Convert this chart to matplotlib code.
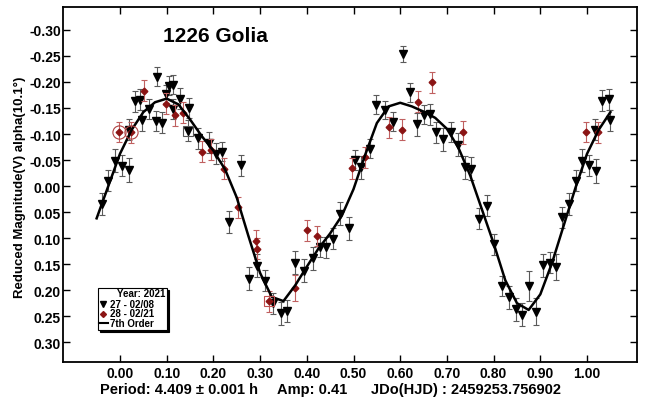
import matplotlib
matplotlib.use("Agg")
import matplotlib.pyplot as plt
from matplotlib.patches import Rectangle
from matplotlib.lines import Line2D

plt.rcParams['font.family'] = ['Liberation Sans', 'DejaVu Sans']
plt.rcParams['font.weight'] = 'bold'

# Session 27 (2021-02-08): phase, reduced magnitude, error
phase_27 = [-0.039, -0.025, -0.011, 0.005, 0.020, 0.019, 0.032, 0.043, 0.048, 0.063,
            0.077, 0.080, 0.090, 0.098, 0.105, 0.113, 0.114, 0.128, 0.148, 0.146,
            0.168, 0.190, 0.205, 0.219, 0.260, 0.233, 0.277, 0.294, 0.310, 0.328,
            0.344, 0.358, 0.374, 0.394, 0.414, 0.428, 0.442, 0.456, 0.471, 0.490,
            0.503, 0.517, 0.535, 0.549, 0.567, 0.585, 0.606, 0.620, 0.636, 0.651,
            0.663, 0.677, 0.692, 0.708, 0.724, 0.738, 0.752, 0.769, 0.786, 0.800,
            0.818, 0.833, 0.847, 0.861, 0.876, 0.891, 0.905, 0.920, 0.933, 0.947,
            0.961, 0.977, 0.990, 1.005, 1.020, 1.018, 1.032, 1.047, 1.050]
mag_27 = [0.035, -0.010, -0.049, -0.039, -0.031, -0.108, -0.163, -0.166, -0.126, -0.148,
          -0.125, -0.210, -0.122, -0.177, -0.193, -0.195, -0.148, -0.168, -0.150, -0.106,
          -0.092, -0.083, -0.062, -0.066, -0.040, 0.069, 0.178, 0.153, 0.182, 0.225,
          0.244, 0.240, 0.147, 0.163, 0.139, 0.117, 0.118, 0.101, 0.053, 0.081,
          -0.050, -0.036, -0.072, -0.156, -0.146, -0.124, -0.254, -0.180, -0.119, -0.137,
          -0.138, -0.103, -0.090, -0.104, -0.079, -0.036, -0.033, 0.063, 0.038, 0.112,
          0.192, 0.214, 0.237, 0.247, 0.192, 0.241, 0.152, 0.147, 0.156, 0.060,
          0.035, -0.010, -0.049, -0.040, -0.029, -0.108, -0.164, -0.167, -0.126]
err_27 = [0.021, 0.020, 0.022, 0.020, 0.023, 0.020, 0.020, 0.020, 0.020, 0.020,
          0.020, 0.018, 0.020, 0.018, 0.018, 0.018, 0.020, 0.020, 0.020, 0.020,
          0.020, 0.020, 0.020, 0.018, 0.020, 0.022, 0.022, 0.022, 0.020, 0.020,
          0.022, 0.022, 0.022, 0.022, 0.022, 0.020, 0.020, 0.020, 0.022, 0.022,
          0.020, 0.022, 0.018, 0.018, 0.018, 0.018, 0.016, 0.018, 0.022, 0.018,
          0.020, 0.020, 0.022, 0.020, 0.022, 0.022, 0.022, 0.020, 0.020, 0.020,
          0.020, 0.022, 0.022, 0.022, 0.028, 0.026, 0.022, 0.020, 0.025, 0.020,
          0.021, 0.020, 0.022, 0.020, 0.023, 0.020, 0.020, 0.020, 0.020]

# Session 28 (2021-02-21)
phase_28 = [-0.002, 0.024, 0.052, 0.098, 0.117, 0.134, 0.176, 0.195, 0.222, 0.252,
            0.292, 0.294, 0.319, 0.375, 0.401, 0.421, 0.496, 0.524, 0.575, 0.604,
            0.638, 0.669, 0.734, 0.998, 1.024]
mag_28 = [-0.104, -0.103, -0.183, -0.158, -0.136, -0.141, -0.066, -0.070, -0.033, 0.041,
          0.105, 0.120, 0.221, 0.195, 0.085, 0.096, -0.034, -0.055, -0.113, -0.108,
          -0.162, -0.199, -0.103, -0.104, -0.103]
err_28 = [0.020, 0.020, 0.020, 0.020, 0.020, 0.020, 0.020, 0.020, 0.020, 0.020,
          0.020, 0.020, 0.020, 0.025, 0.020, 0.020, 0.020, 0.020, 0.020, 0.020,
          0.020, 0.020, 0.022, 0.020, 0.020]

# 7th order Fourier fit, sampled along the phase
fit_phase = [-0.050, -0.025, 0.000, 0.025, 0.050, 0.075, 0.100, 0.125, 0.150, 0.175,
             0.200, 0.225, 0.250, 0.275, 0.300, 0.325, 0.350, 0.375, 0.400, 0.425,
             0.450, 0.475, 0.500, 0.525, 0.550, 0.575, 0.600, 0.625, 0.650, 0.675,
             0.700, 0.725, 0.750, 0.775, 0.800, 0.825, 0.850, 0.875, 0.900, 0.925,
             0.950, 0.975, 1.000, 1.025, 1.050]
fit_mag = [0.062, 0.000, -0.062, -0.108, -0.142, -0.161, -0.168, -0.157, -0.128, -0.096,
           -0.068, -0.032, 0.022, 0.096, 0.167, 0.213, 0.221, 0.191, 0.155, 0.120,
           0.091, 0.057, 0.006, -0.060, -0.121, -0.153, -0.160, -0.153, -0.143, -0.131,
           -0.110, -0.073, -0.020, 0.045, 0.110, 0.181, 0.225, 0.238, 0.208, 0.148,
           0.076, 0.004, -0.062, -0.108, -0.142]

# Flagged observations
circled_phase = [-0.002, 0.024]
circled_mag = [-0.104, -0.103]
boxed_black = (0.146, -0.106)
boxed_red = (0.319, 0.221)

x_ticks = [0.0, 0.1, 0.2, 0.3, 0.4, 0.5, 0.6, 0.7, 0.8, 0.9, 1.0]
y_ticks = [-0.30, -0.25, -0.20, -0.15, -0.10, -0.05, 0.00, 0.05, 0.10, 0.15, 0.20, 0.25, 0.30]

W, H = 647, 402
L, R, T, B = 63, 637, 8, 363
fig = plt.figure(figsize=(W / 100, H / 100), dpi=100)
ax = fig.add_axes([L / W, 1 - B / H, (R - L) / W, (B - T) / H])

BLACK_ERR = '#5a5a5a'
RED = '#8b1414'
RED_ERR = '#c06060'

ax.errorbar(phase_27, mag_27, yerr=err_27, fmt='v', ms=5.2, color='black',
            ecolor=BLACK_ERR, elinewidth=0.8, capsize=2.5, capthick=0.8, zorder=3)
ax.errorbar(phase_28, mag_28, yerr=err_28, fmt='D', ms=3.4, color=RED,
            ecolor=RED_ERR, elinewidth=0.8, capsize=2.5, capthick=0.8, zorder=4)
ax.plot(fit_phase, fit_mag, color='black', lw=1.8, zorder=5)

ax.plot(circled_phase, circled_mag, 'o', ms=9.5, mfc='none', mec='#b04040', mew=0.8, zorder=6)
ax.plot([boxed_black[0]], [boxed_black[1]], 's', ms=7, mfc='none', mec='#555555', mew=0.8, zorder=6)
ax.plot([boxed_red[0]], [boxed_red[1]], 's', ms=7, mfc='none', mec='#c05050', mew=0.8, zorder=6)

ax.set_xlim(-0.122, 1.107)
ax.set_ylim(0.338, -0.344)
ax.set_xticks(x_ticks)
ax.set_xticklabels([f"{v:.2f}" for v in x_ticks])
ax.set_yticks(y_ticks)
ax.set_yticklabels([f"{v:.2f}".replace('-0.00', '0.00') for v in y_ticks])
ax.tick_params(axis='both', direction='in', length=5, width=1, top=True, right=True,
               labelsize=10)
ax.tick_params(axis='x', pad=3)
ax.tick_params(axis='y', pad=1.5)
for lab in ax.get_xticklabels() + ax.get_yticklabels():
    lab.set_fontweight('bold')
for sp in ax.spines.values():
    sp.set_linewidth(1.3)


def fx(px):
    return px / W


def fy(py):
    return 1 - py / H


ax.text((163 - L) / (R - L), (B - 37) / (B - T), '1226 Golia', transform=ax.transAxes,
        fontsize=15, fontweight='bold', ha='left', va='center')

fig.text(fx(20), fy(187), 'Reduced Magnitude(V) alpha(10.1°)', rotation=90,
         fontsize=9.5, fontweight='bold', ha='center', va='center')

fig.text(fx(100), fy(390), 'Period: 4.409 ± 0.001 h', fontsize=10.5, fontweight='bold',
         ha='left', va='center')
fig.text(fx(277), fy(390), 'Amp: 0.41', fontsize=10.5, fontweight='bold',
         ha='left', va='center')
fig.text(fx(371), fy(390), 'JDo(HJD) : 2459253.756902', fontsize=10.5, fontweight='bold',
         ha='left', va='center')

# Legend box with drop shadow
bx0, by0, bx1, by1 = 98, 289, 167, 331
LEG_FS = 7.0
fig.add_artist(Rectangle((fx(bx0 + 2), fy(by1 + 2)), (bx1 - bx0) / W, (by1 - by0) / H,
                         transform=fig.transFigure, facecolor='black', edgecolor='black',
                         lw=0.8, zorder=1))
fig.add_artist(Rectangle((fx(bx0), fy(by1)), (bx1 - bx0) / W, (by1 - by0) / H,
                         transform=fig.transFigure, facecolor='white', edgecolor='black',
                         lw=0.8, zorder=1.5))
fig.text(fx(165), fy(294), 'Year: 2021', fontsize=LEG_FS, fontweight='bold',
         ha='right', va='center', zorder=3)
fig.add_artist(Line2D([fx(103.3)], [fy(304.5)], marker='v', ms=4.5, color='black',
                      transform=fig.transFigure, zorder=2))
fig.text(fx(109.5), fy(304.5), '27 - 02/08', fontsize=LEG_FS, fontweight='bold',
         ha='left', va='center', zorder=3)
fig.add_artist(Line2D([fx(103.3)], [fy(314.5)], marker='D', ms=3.0, color=RED,
                      transform=fig.transFigure, zorder=2))
fig.text(fx(109.5), fy(314.5), '28 - 02/21', fontsize=LEG_FS, fontweight='bold',
         ha='left', va='center', zorder=3)
fig.add_artist(Line2D([fx(99.5), fx(108)], [fy(324), fy(324)], color='black', lw=1.5,
                      transform=fig.transFigure, zorder=2))
fig.text(fx(109.5), fy(324), '7th Order', fontsize=LEG_FS, fontweight='bold',
         ha='left', va='center', zorder=3)

fig.savefig('out.png', dpi=100)
